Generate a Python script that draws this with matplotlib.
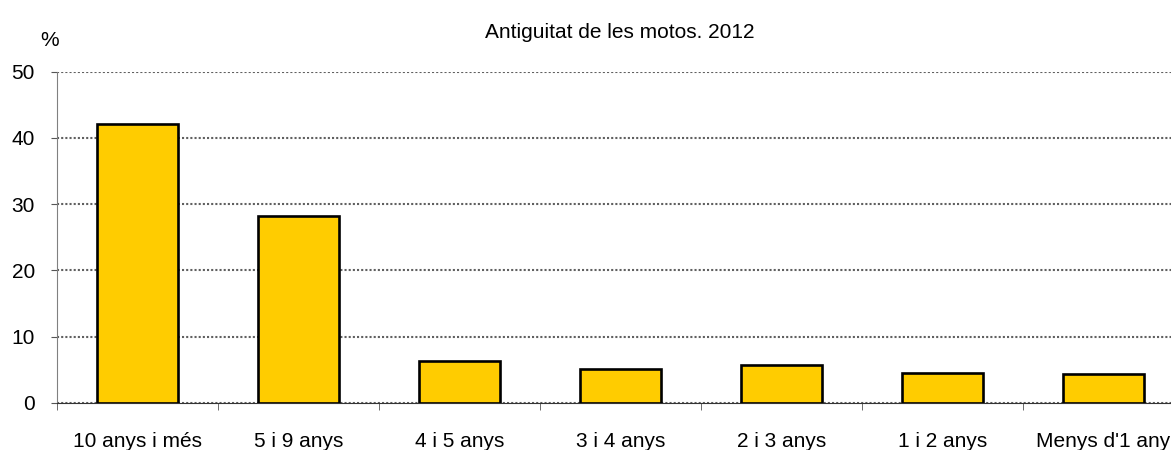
import numpy as np
import matplotlib.pyplot as plt

categories = ["10 anys i més", "5 i 9 anys", "4 i 5 anys", "3 i 4 anys",
              "2 i 3 anys", "1 i 2 anys", "Menys d'1 any"]
values = [42.1, 28.2, 6.3, 5.1, 5.7, 4.6, 4.4]
yticks = [0, 10, 20, 30, 40, 50]

plt.rcParams['font.family'] = ['Liberation Sans', 'DejaVu Sans']

fig = plt.figure(figsize=(11.71, 4.5), dpi=100)
ax = fig.add_axes([57 / 1171, 47 / 450, 1127 / 1171, 331.3 / 450])

x = np.arange(len(categories))
ax.bar(x, values, width=0.5, color='#FFCC00', edgecolor='black',
       linewidth=1.9, zorder=3)

ax.set_xlim(-0.5, len(categories) - 0.5)
ax.set_ylim(0, 50)
ax.set_yticks(yticks)
ax.set_yticklabels([str(v) for v in yticks], fontsize=15)
ax.yaxis.grid(True, color='#606060', linestyle=(0, (1, 1)), linewidth=1.5, zorder=0)

ax.set_xticks(x)
ax.set_xticklabels(categories, fontsize=15)
ax.tick_params(axis='x', which='major', length=0, pad=21)
ax.set_xticks(np.arange(len(categories) + 1) - 0.5, minor=True)
ax.tick_params(axis='x', which='minor', length=5, color='#555555')
ax.tick_params(axis='y', length=4, color='#555555', pad=12)

for side in ['top', 'right']:
    ax.spines[side].set_visible(False)
ax.spines['left'].set_color('#808080')
ax.spines['bottom'].set_color('#333333')

fig.text(620 / 1171, 1 - 32 / 450, 'Antiguitat de les motos. 2012',
         ha='center', va='center', fontsize=15)
fig.text(50 / 1171, 1 - 40 / 450, '%', ha='center', va='center', fontsize=15)

fig.savefig('out.png', dpi=100)
